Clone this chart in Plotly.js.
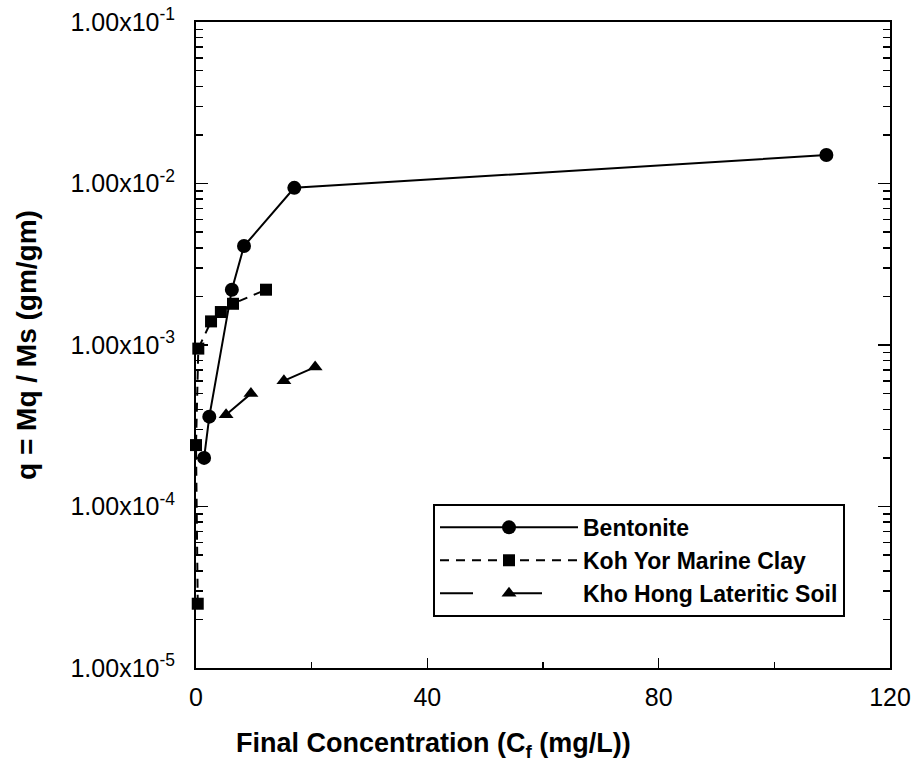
<!DOCTYPE html>
<html>
<head>
<meta charset="utf-8">
<script src="https://cdn.plot.ly/plotly-3.0.1.min.js"></script>
<style>
  html, body { margin: 0; padding: 0; background: #fff; }
  #chart { width: 917px; height: 762px; }
</style>
</head>
<body>
<div id="chart"></div>
<script>
// Sorption isotherm data: final concentration Cf (mg/L) vs q = Mq / Ms (gm/gm)
const bentoniteCf = [1.4, 2.3, 6.2, 8.3, 17.0, 109.0];
const bentoniteQ  = [2.0e-4, 3.6e-4, 2.2e-3, 4.1e-3, 9.4e-3, 1.5e-2];

const kohYorCf = [0.3, 0.0, 0.4, 2.6, 4.3, 6.4, 12.1];
const kohYorQ  = [2.5e-5, 2.4e-4, 9.5e-4, 1.4e-3, 1.6e-3, 1.8e-3, 2.2e-3];

const khoHongCf = [5.2, 9.5, 15.2, 20.6];
const khoHongQ  = [3.7e-4, 5.0e-4, 6.0e-4, 7.3e-4];

const seriesNames = ['Bentonite', 'Koh Yor Marine Clay', 'Kho Hong Lateritic Soil'];

const yTickVals = [1e-5, 1e-4, 1e-3, 1e-2, 1e-1];
const yTickText = ['1.00x10<sup>-5</sup>', '1.00x10<sup>-4</sup>', '1.00x10<sup>-3</sup>',
                   '1.00x10<sup>-2</sup>', '1.00x10<sup>-1</sup>'];
const xTickVals = [0, 40, 80, 120];

const FONT = 'Arial, "Liberation Sans", Helvetica, sans-serif';

const traces = [
  {
    x: bentoniteCf, y: bentoniteQ, name: seriesNames[0],
    mode: 'lines+markers', cliponaxis: false,
    line: { color: '#000', width: 2, dash: 'solid' },
    marker: { symbol: 'circle', size: 14, color: '#000' }
  },
  {
    x: kohYorCf, y: kohYorQ, name: seriesNames[1],
    mode: 'lines+markers', cliponaxis: false,
    line: { color: '#000', width: 2, dash: '9px,7px' },
    marker: { symbol: 'square', size: 12, color: '#000' }
  },
  {
    x: khoHongCf, y: khoHongQ, name: seriesNames[2],
    mode: 'lines+markers', cliponaxis: false,
    line: { color: '#000', width: 2, dash: '33px,36px' },
    marker: { symbol: 'triangle-up', size: 13, color: '#000' }
  }
];

const layout = {
  width: 917, height: 762,
  paper_bgcolor: '#fff', plot_bgcolor: '#fff',
  margin: { l: 196, r: 27, t: 22, b: 94 },
  font: { family: FONT, color: '#000', size: 22 },
  showlegend: true,
  legend: {
    x: 0.3415, y: 0.254, xanchor: 'left', yanchor: 'top',
    bgcolor: '#fff', bordercolor: '#000', borderwidth: 2,
    font: { family: FONT, size: 23, color: '#000', weight: 'bold' },
    itemwidth: 138, tracegroupgap: 0
  },
  xaxis: {
    range: [0, 120], showgrid: false, zeroline: false,
    showline: true, linecolor: '#000', linewidth: 2, mirror: true,
    ticks: 'inside', ticklen: 10, tickwidth: 1.5, tickcolor: '#000',
    tickvals: xTickVals, ticklabelstandoff: 6,
    tickfont: { family: FONT, size: 25, color: '#000' },
    minor: { dtick: 20, ticks: 'inside', ticklen: 6, tickwidth: 1.5, tickcolor: '#000' }
  },
  yaxis: {
    type: 'log', range: [-5, -1], showgrid: false, zeroline: false,
    showline: true, linecolor: '#000', linewidth: 2, mirror: 'allticks',
    ticks: 'inside', ticklen: 12, tickwidth: 1.5, tickcolor: '#000',
    tickvals: yTickVals, ticktext: yTickText, ticklabelstandoff: 14,
    tickfont: { family: FONT, size: 25, color: '#000' },
    minor: { dtick: 'D1', ticks: 'inside', ticklen: 7, tickwidth: 1.5, tickcolor: '#000' },
    title: { text: 'q = Mq / Ms (gm/gm)', standoff: 26,
             font: { family: FONT, size: 28, color: '#000', weight: 'bold' } }
  },
  annotations: [
    {
      text: 'Final Concentration (C<sub>f</sub> (mg/L))',
      xref: 'paper', yref: 'paper', x: 0.3415, y: -0.119,
      xanchor: 'center', yanchor: 'middle', showarrow: false,
      font: { family: FONT, size: 27, color: '#000', weight: 'bold' }
    }
  ]
};

Plotly.newPlot('chart', traces, layout, { staticPlot: true, displayModeBar: false });
</script>
</body>
</html>
